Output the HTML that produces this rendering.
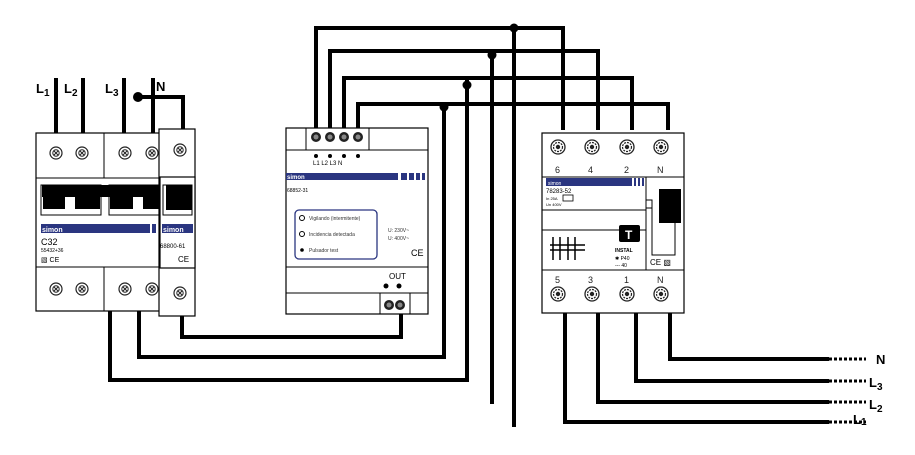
<!DOCTYPE html>
<html><head><meta charset="utf-8"><style>
html,body{margin:0;padding:0;background:#fff;}
svg{display:block;}
text{font-family:"Liberation Sans",sans-serif;}
</style></head><body>
<svg width="915" height="455" viewBox="0 0 915 455" xmlns="http://www.w3.org/2000/svg">
<defs>
<g id="sc"><circle r="6" fill="#fff" stroke="#222" stroke-width="1.2"/><circle r="3.2" fill="none" stroke="#222" stroke-width="1"/><path d="M-2,-2L2,2M2,-2L-2,2" stroke="#222" stroke-width="1"/></g>
<g id="scb"><circle r="5" fill="#222"/><circle r="2.5" fill="#888"/></g>
<g id="scr"><circle r="7" fill="#fff" stroke="#222" stroke-width="1.3"/><circle r="4.5" fill="none" stroke="#222" stroke-width="1.2" stroke-dasharray="2 1"/><circle r="2.2" fill="#222"/></g>
</defs>
<g fill="none" stroke="#000" stroke-width="4" stroke-linejoin="miter" stroke-linecap="square">
<!-- top wires -->
<path d="M316,128V28H563V128"/>
<path d="M330,128V51H598V128"/>
<path d="M344,128V78H632V128"/>
<path d="M358,128V104H668V128"/>
<path d="M514,28V425"/>
<path d="M492,53V402"/>
<path d="M467,82V380"/>
<path d="M444,106V357"/>
<!-- left inputs -->
<path d="M56,80V133M83,80V133M124,80V133M153,80V133"/>
<path d="M138,97H183V129"/>
<!-- bottom left wires -->
<path d="M110,311V380H467"/>
<path d="M139,311V357H444"/>
<path d="M182,316V337H401V316"/>
<!-- right outputs -->
<path d="M670,313V359H827"/>
<path d="M636,313V381H827"/>
<path d="M598,313V402H827"/>
<path d="M565,313V422H827"/>
</g>
<g fill="#000">
<circle cx="514" cy="28" r="4.5"/><circle cx="492" cy="55" r="4.5"/><circle cx="467" cy="85" r="4.5"/><circle cx="444" cy="107" r="4.5"/><circle cx="138" cy="97" r="5"/>
</g>
<g stroke="#000" stroke-width="3" stroke-dasharray="3 2">
<path d="M829,359H866M829,381H866M829,402H866M829,422H866"/>
</g>
<g font-weight="bold" font-size="13">
<text x="876" y="364">N</text>
<text x="869" y="387">L<tspan font-size="10" dy="3">3</tspan></text>
<text x="869" y="409">L<tspan font-size="10" dy="3">2</tspan></text>
<text x="853" y="424">L<tspan font-size="10" dy="1">1</tspan></text>
<text x="36" y="93">L<tspan font-size="10" dy="3">1</tspan></text>
<text x="64" y="93">L<tspan font-size="10" dy="3">2</tspan></text>
<text x="105" y="93">L<tspan font-size="10" dy="3">3</tspan></text>
<text x="156" y="91">N</text>
</g>

<!-- LEFT MODULE -->
<g stroke="#000" stroke-width="1.2" fill="#fff">
<rect x="36" y="133" width="136" height="178"/>
<rect x="159" y="129" width="36" height="187"/>
<rect x="160" y="177" width="35" height="91"/>
</g>
<g stroke="#000" stroke-width="1" fill="none">
<path d="M36,178H105M104,133V178H160M36,267H105M104,311V267H160"/>
<rect x="41" y="185" width="60" height="30"/><rect x="109" y="185" width="51" height="30"/>
<rect x="163" y="185" width="29" height="30"/>
</g>
<g fill="#000">
<rect x="42" y="185" width="118" height="12"/>
<rect x="43" y="195" width="22" height="14"/><rect x="75" y="195" width="25" height="14"/>
<rect x="110" y="195" width="23" height="14"/><rect x="143" y="195" width="17" height="14"/>
<rect x="166" y="185" width="26" height="25"/>
</g>
<rect x="41" y="224" width="109" height="9" fill="#2a3580"/>
<rect x="152" y="224" width="4" height="9" fill="#2a3580"/>
<rect x="162" y="224" width="31" height="9" fill="#2a3580"/>
<text x="42" y="232" font-size="7" fill="#fff" font-weight="bold">simon</text>
<text x="163" y="232" font-size="7" fill="#fff" font-weight="bold">simon</text>
<text x="41" y="245" font-size="9">C32</text>
<text x="41" y="252" font-size="5">55432+36</text>
<text x="41" y="262" font-size="7">▧ CE</text>
<text x="160" y="248" font-size="6">68800-61</text>
<text x="178" y="262" font-size="8">CE</text>
<use href="#sc" x="56" y="153"/><use href="#sc" x="82" y="153"/><use href="#sc" x="125" y="153"/><use href="#sc" x="152" y="153"/><use href="#sc" x="180" y="150"/>
<use href="#sc" x="56" y="289"/><use href="#sc" x="82" y="289"/><use href="#sc" x="125" y="289"/><use href="#sc" x="152" y="289"/><use href="#sc" x="180" y="293"/>

<!-- MIDDLE MODULE -->
<g stroke="#000" stroke-width="1.2" fill="#fff">
<rect x="286" y="128" width="142" height="186"/>
</g>
<g stroke="#000" stroke-width="1" fill="none">
<path d="M286,150H428M286,267H428M286,293H428M306,128V150M369,128V150M380,293V314M410,293V314"/>
<rect x="295" y="210" width="82" height="49" rx="4" stroke="#2a3580" stroke-width="1.3"/>
</g>
<use href="#scb" x="316" y="137"/><use href="#scb" x="330" y="137"/><use href="#scb" x="344" y="137"/><use href="#scb" x="358" y="137"/>
<g fill="#000"><circle cx="316" cy="156" r="2"/><circle cx="330" cy="156" r="2"/><circle cx="344" cy="156" r="2"/><circle cx="358" cy="156" r="2"/>
<circle cx="386" cy="286" r="2.5"/><circle cx="399" cy="286" r="2.5"/></g>
<text x="313" y="165" font-size="6">L1 L2 L3 N</text>
<rect x="286" y="173" width="112" height="7" fill="#2a3580"/>
<g fill="#2a3580"><rect x="401" y="173" width="6" height="7"/><rect x="409" y="173" width="5" height="7"/><rect x="416" y="173" width="4" height="7"/><rect x="422" y="173" width="3" height="7"/></g>
<text x="287" y="179" font-size="6" fill="#fff" font-weight="bold">simon</text>
<text x="287" y="192" font-size="5">68852-31</text>
<g font-size="5" fill="#333">
<circle cx="302" cy="218" r="2.5" fill="none" stroke="#000"/><text x="309" y="220">Vigilando (intermitente)</text>
<circle cx="302" cy="234" r="2.5" fill="none" stroke="#000"/><text x="309" y="236">Incidencia detectada</text>
<circle cx="302" cy="250" r="1.8" fill="#000"/><text x="309" y="252">Pulsador test</text>
<text x="388" y="232">U: 230V~</text><text x="388" y="240">U: 400V~</text>
</g>
<text x="411" y="256" font-size="9">CE</text>
<text x="389" y="279" font-size="8">OUT</text>
<use href="#scb" x="389" y="305"/><use href="#scb" x="400" y="305"/>

<!-- RIGHT MODULE -->
<rect x="542" y="133" width="142" height="180" fill="#fff" stroke="#000" stroke-width="1.2"/>
<g stroke="#000" stroke-width="1" fill="none">
<path d="M542,177H684M542,270H684M542,210H646M542,230H646M646,177V270"/>
<rect x="646" y="200" width="6" height="8"/>
<path d="M652,200V255H675V222"/>
</g>
<rect x="659" y="189" width="22" height="34" fill="#000"/>
<rect x="546" y="178" width="86" height="8" fill="#2a3580"/>
<g fill="#2a3580"><rect x="634" y="178" width="2" height="8"/><rect x="638" y="178" width="2" height="8"/><rect x="642" y="178" width="2" height="8"/></g>
<text x="548" y="185" font-size="5" fill="#fff">simon</text>
<text x="546" y="193" font-size="6">78283-52</text>
<text x="546" y="200" font-size="4">In 25A</text><rect x="563" y="195" width="10" height="6" fill="none" stroke="#000" stroke-width=".8"/>
<text x="546" y="206" font-size="4">Un 400V</text>
<rect x="619" y="225" width="21" height="17" rx="2" fill="#000"/>
<text x="625" y="239" font-size="12" fill="#fff" font-weight="bold">T</text>
<text x="615" y="252" font-size="5" font-weight="bold">INSTAL</text>
<text x="615" y="260" font-size="5">✱ P40</text>
<text x="615" y="267" font-size="5">--- 40</text>
<g stroke="#000" stroke-width="1.5" fill="none"><path d="M553,237V260M560,237V260M568,237V260M575,237V260M550,245H585M550,250H585"/></g>
<text x="650" y="265" font-size="8">CE ▧</text>
<g font-size="9" fill="#222">
<text x="555" y="173">6</text><text x="588" y="173">4</text><text x="624" y="173">2</text><text x="657" y="173">N</text>
<text x="555" y="283">5</text><text x="588" y="283">3</text><text x="624" y="283">1</text><text x="657" y="283">N</text>
</g>
<use href="#scr" x="558" y="147"/><use href="#scr" x="592" y="147"/><use href="#scr" x="627" y="147"/><use href="#scr" x="661" y="147"/>
<use href="#scr" x="558" y="294"/><use href="#scr" x="592" y="294"/><use href="#scr" x="627" y="294"/><use href="#scr" x="661" y="294"/>
</svg>
</body></html>
